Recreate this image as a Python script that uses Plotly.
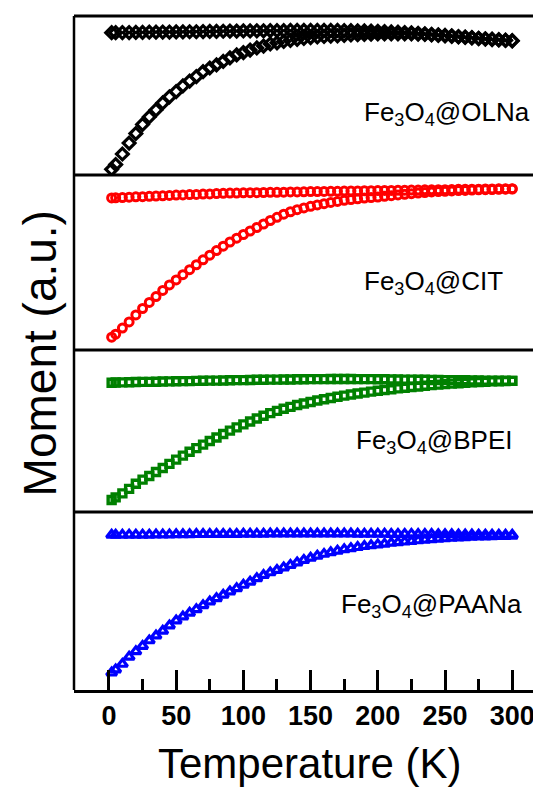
import plotly.graph_objects as go

# Temperature (K)
T = [2, 5, 10, 15, 20, 25, 30, 35, 40, 45, 50, 55, 60, 65, 70, 75, 80, 85, 90, 95,
     100, 105, 110, 115, 120, 125, 130, 135, 140, 145, 150, 155, 160, 165, 170, 175,
     180, 185, 190, 195, 200, 205, 210, 215, 220, 225, 230, 235, 240, 245, 250, 255,
     260, 265, 270, 275, 280, 285, 290, 295, 300]

# Fe3O4@OLNa (normalised moment, a.u.)
olna_zfc = [0.036, 0.066, 0.132, 0.201, 0.261, 0.318, 0.365, 0.409, 0.453, 0.492, 0.525,
            0.560, 0.591, 0.619, 0.650, 0.673, 0.692, 0.714, 0.736, 0.755, 0.770, 0.786,
            0.799, 0.811, 0.824, 0.831, 0.840, 0.847, 0.853, 0.859, 0.864, 0.868, 0.871,
            0.873, 0.875, 0.878, 0.881, 0.882, 0.884, 0.886, 0.887, 0.887, 0.888, 0.888,
            0.888, 0.888, 0.886, 0.884, 0.881, 0.878, 0.875, 0.872, 0.868, 0.865, 0.862,
            0.858, 0.855, 0.852, 0.849, 0.846, 0.843]
olna_fc = [0.895, 0.895, 0.896, 0.896, 0.897, 0.897, 0.898, 0.898, 0.899, 0.899, 0.900,
           0.900, 0.901, 0.901, 0.902, 0.903, 0.903, 0.904, 0.905, 0.905, 0.906, 0.906,
           0.907, 0.907, 0.908, 0.908, 0.908, 0.909, 0.909, 0.909, 0.909, 0.909, 0.909,
           0.909, 0.909, 0.908, 0.908, 0.907, 0.906, 0.905, 0.904, 0.902, 0.900, 0.898,
           0.896, 0.894, 0.891, 0.888, 0.885, 0.882, 0.878, 0.875, 0.871, 0.868, 0.864,
           0.860, 0.857, 0.854, 0.851, 0.848, 0.845]

# Fe3O4@CIT
cit_zfc = [0.073, 0.090, 0.125, 0.160, 0.200, 0.237, 0.272, 0.305, 0.340, 0.372, 0.400,
           0.430, 0.459, 0.487, 0.515, 0.542, 0.568, 0.593, 0.617, 0.639, 0.660, 0.680,
           0.700, 0.720, 0.740, 0.758, 0.776, 0.790, 0.802, 0.812, 0.821, 0.829, 0.836,
           0.843, 0.849, 0.855, 0.860, 0.864, 0.868, 0.871, 0.874, 0.878, 0.882, 0.886,
           0.890, 0.893, 0.897, 0.900, 0.903, 0.905, 0.907, 0.909, 0.911, 0.912, 0.914,
           0.915, 0.916, 0.917, 0.918, 0.919, 0.920]
cit_fc = [0.869, 0.870, 0.871, 0.873, 0.875, 0.876, 0.878, 0.880, 0.881, 0.883, 0.885,
          0.886, 0.888, 0.889, 0.891, 0.892, 0.894, 0.895, 0.897, 0.897, 0.898, 0.899,
          0.899, 0.900, 0.901, 0.901, 0.902, 0.903, 0.903, 0.904, 0.905, 0.905, 0.906,
          0.907, 0.907, 0.908, 0.909, 0.909, 0.910, 0.910, 0.911, 0.912, 0.912, 0.913,
          0.913, 0.914, 0.914, 0.915, 0.915, 0.916, 0.916, 0.917, 0.918, 0.918, 0.919,
          0.919, 0.920, 0.920, 0.921, 0.921, 0.922]

# Fe3O4@BPEI
bpei_zfc = [0.074, 0.090, 0.115, 0.143, 0.174, 0.200, 0.222, 0.247, 0.272, 0.297, 0.323,
            0.348, 0.372, 0.394, 0.416, 0.438, 0.460, 0.481, 0.502, 0.522, 0.541, 0.559,
            0.577, 0.594, 0.610, 0.624, 0.637, 0.649, 0.660, 0.670, 0.679, 0.688, 0.696,
            0.704, 0.711, 0.718, 0.725, 0.731, 0.737, 0.743, 0.748, 0.753, 0.758, 0.763,
            0.767, 0.771, 0.775, 0.779, 0.783, 0.786, 0.789, 0.792, 0.795, 0.798, 0.800,
            0.802, 0.804, 0.806, 0.807, 0.808, 0.809]
bpei_fc = [0.798, 0.799, 0.800, 0.801, 0.802, 0.803, 0.803, 0.804, 0.805, 0.806, 0.807,
           0.808, 0.808, 0.809, 0.810, 0.811, 0.811, 0.812, 0.813, 0.814, 0.814, 0.815,
           0.816, 0.816, 0.817, 0.817, 0.818, 0.818, 0.819, 0.819, 0.820, 0.820, 0.820,
           0.821, 0.821, 0.821, 0.821, 0.820, 0.820, 0.820, 0.819, 0.819, 0.818, 0.818,
           0.817, 0.817, 0.816, 0.816, 0.815, 0.815, 0.814, 0.814, 0.813, 0.813, 0.812,
           0.812, 0.811, 0.811, 0.810, 0.810, 0.809]

# Fe3O4@PAANa
paana_zfc = [0.097, 0.115, 0.146, 0.186, 0.217, 0.247, 0.278, 0.305, 0.332, 0.362, 0.390,
             0.412, 0.433, 0.453, 0.475, 0.496, 0.515, 0.534, 0.553, 0.571, 0.590, 0.608,
             0.627, 0.645, 0.660, 0.674, 0.688, 0.702, 0.716, 0.730, 0.742, 0.754, 0.764,
             0.773, 0.782, 0.790, 0.796, 0.802, 0.808, 0.812, 0.817, 0.821, 0.826, 0.829,
             0.833, 0.836, 0.840, 0.843, 0.846, 0.849, 0.851, 0.854, 0.856, 0.858, 0.860,
             0.861, 0.862, 0.863, 0.864, 0.865, 0.866]
paana_fc = [0.871, 0.871, 0.871, 0.872, 0.872, 0.872, 0.872, 0.873, 0.873, 0.873, 0.874,
            0.874, 0.874, 0.875, 0.875, 0.875, 0.876, 0.876, 0.876, 0.876, 0.877, 0.877,
            0.877, 0.877, 0.878, 0.878, 0.878, 0.878, 0.878, 0.878, 0.878, 0.878, 0.878,
            0.878, 0.878, 0.878, 0.878, 0.877, 0.877, 0.877, 0.877, 0.877, 0.876, 0.876,
            0.876, 0.876, 0.875, 0.875, 0.875, 0.874, 0.874, 0.874, 0.873, 0.873, 0.873,
            0.872, 0.872, 0.872, 0.871, 0.871, 0.871]

labels = ["Fe<sub>3</sub>O<sub>4</sub>@OLNa", "Fe<sub>3</sub>O<sub>4</sub>@CIT",
          "Fe<sub>3</sub>O<sub>4</sub>@BPEI", "Fe<sub>3</sub>O<sub>4</sub>@PAANa"]
x_ticks = [0, 50, 100, 150, 200, 250, 300]

FONT = "Liberation Sans, Arial, sans-serif"

# panels top -> bottom: (zfc, fc, color, symbol, size, line width, axis)
panels = [
    (olna_zfc, olna_fc, "#000000", "diamond-open", 9, 3.2, "y4"),
    (cit_zfc, cit_fc, "#ff0000", "circle-open", 8, 3.0, "y3"),
    (bpei_zfc, bpei_fc, "#008000", "square-open", 7, 3.4, "y2"),
    (paana_zfc, paana_fc, "#0000ff", "triangle-up-open", 9, 3.2, "y"),
]

fig = go.Figure()
for zfc, fc, col, sym, sz, lw, ax in panels:
    for ys in (fc, zfc):
        fig.add_trace(go.Scatter(
            x=T, y=ys, mode="markers", yaxis=ax, xaxis="x", showlegend=False,
            marker=dict(symbol=sym, size=sz, color=col, line=dict(color=col, width=lw)),
        ))

# domains (paper): bottom -> top
doms = [(0.0, 0.2641), (0.2641, 0.5045), (0.5045, 0.7641), (0.7641, 1.0)]
yax = dict(range=[0, 1], showticklabels=False, ticks="", showgrid=False,
           zeroline=False, showline=False, fixedrange=True)

# the page body has an 8 px margin, so the figure is 8 px smaller than the window
fig.update_layout(
    width=533, height=779,
    margin=dict(l=66, r=0, t=8, b=97),
    paper_bgcolor="white", plot_bgcolor="white",
    font=dict(family=FONT, color="black"),
    xaxis=dict(range=[-26, 321.4], tickvals=x_ticks, ticktext=[str(v) for v in x_ticks],
               ticks="inside", ticklen=20, tickwidth=3, tickcolor="black",
               showline=True, linewidth=3, linecolor="black",
               showgrid=False, zeroline=False, anchor="y",
               tickfont=dict(family=FONT, size=27, color="black", weight="bold"),
               minor=dict(ticks="inside", ticklen=11, tickwidth=3, tickcolor="black",
                          tickvals=[25, 75, 125, 175, 225, 275], showgrid=False)),
    yaxis=dict(domain=list(doms[0]), anchor="x", **yax),
    yaxis2=dict(domain=list(doms[1]), anchor="x", **yax),
    yaxis3=dict(domain=list(doms[2]), anchor="x", **yax),
    yaxis4=dict(domain=list(doms[3]), anchor="x", **yax),
)

shapes = []
shapes.append(dict(type="line", xref="paper", yref="paper", x0=0, x1=0, y0=0, y1=1,
                   line=dict(color="black", width=2.5)))
for yv in (1.0, doms[3][0], doms[2][0], doms[1][0]):
    shapes.append(dict(type="line", xref="paper", yref="paper", x0=0, x1=1, y0=yv, y1=yv,
                       line=dict(color="black", width=3)))
fig.update_layout(shapes=shapes)

ann = []
label_pos = [(0.617, 0.856), (0.617, 0.604), (0.600, 0.369), (0.568, 0.125)]
for lab, (lx, ly) in zip(labels, label_pos):
    ann.append(dict(text=lab, xref="paper", yref="paper", x=lx, y=ly, xanchor="left",
                    yanchor="middle", showarrow=False,
                    font=dict(family=FONT, size=26, color="black")))
ann.append(dict(text="Temperature (K)", xref="paper", yref="paper", x=0.505, y=-0.109,
                xanchor="center", yanchor="middle", showarrow=False, borderpad=0,
                font=dict(family=FONT, size=42, color="black")))
ann.append(dict(text="Moment (a.u.)", xref="paper", yref="paper", x=-0.072, y=0.5,
                xanchor="center", yanchor="middle", textangle=-90, showarrow=False,
                font=dict(family=FONT, size=46, color="black")))
fig.update_layout(annotations=ann)

fig.write_html("out.html")
